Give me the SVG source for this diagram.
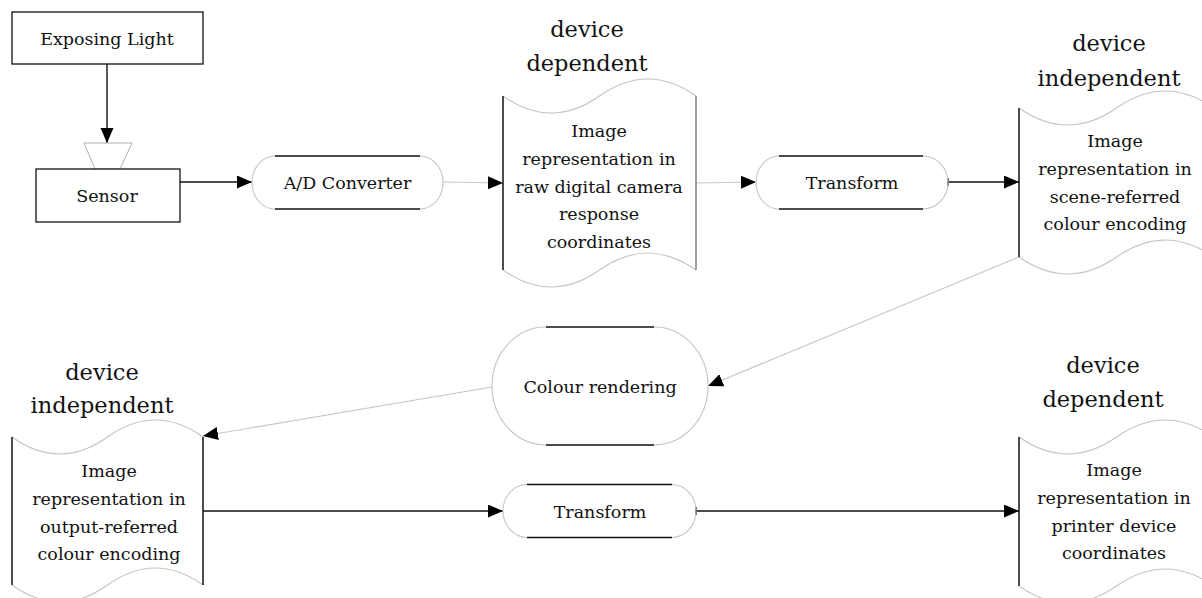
<svg xmlns="http://www.w3.org/2000/svg" width="1202" height="598" viewBox="0 0 1202 598">
<style>
text{font-family:"DejaVu Serif","Liberation Serif",serif;fill:#111;text-anchor:middle}
.b{font-size:17.5px}
.l{font-size:22.5px}
.box{fill:#fff;stroke:#111;stroke-width:1.3}
.k{fill:none;stroke:#111;stroke-width:1.5}
.g{fill:none;stroke:#c4c4c4;stroke-width:1.1}
.gd{fill:none;stroke:#808080;stroke-width:1.5}
.ck{fill:none;stroke:#111;stroke-width:1.4}
.cg{fill:none;stroke:#c8c8c8;stroke-width:1.2}
</style>
<defs>
<marker id="ah" markerUnits="userSpaceOnUse" markerWidth="16" markerHeight="14" refX="15" refY="6.5" orient="auto">
<path d="M0,0 L15,6.5 L0,13 z" fill="#000"/>
</marker>
</defs>
<rect width="1202" height="598" fill="#fff"/>

<g id="connectors">
<line class="ck" x1="107" y1="64" x2="107" y2="143" marker-end="url(#ah)"/>
<line class="ck" x1="180" y1="182" x2="252" y2="182" marker-end="url(#ah)"/>
<line class="cg" x1="443" y1="182" x2="503" y2="183" marker-end="url(#ah)"/>
<line class="cg" x1="696" y1="183" x2="756" y2="182" marker-end="url(#ah)"/>
<line class="ck" x1="948" y1="182" x2="1019" y2="182" marker-end="url(#ah)"/>
<line class="ck" x1="948" y1="178" x2="948" y2="186"/>
<line class="cg" x1="1019" y1="257" x2="708" y2="386" marker-end="url(#ah)"/>
<line class="cg" x1="492" y1="387" x2="203" y2="436" marker-end="url(#ah)"/>
<line class="ck" x1="203" y1="511" x2="503" y2="511" marker-end="url(#ah)"/>
<line class="ck" x1="696" y1="511" x2="1019" y2="511" marker-end="url(#ah)"/>
<line class="ck" x1="696" y1="507" x2="696" y2="515"/>
</g>

<g id="exposing-light">
<rect class="box" x="12" y="12" width="191" height="52"/>
<text class="b" x="107" y="45">Exposing Light</text>
</g>

<g id="sensor">
<path d="M84,143 L132,143 L120,169 L95,169 z" fill="#fff" stroke="#b0b0b0" stroke-width="1"/>
<rect class="box" x="36" y="169" width="144" height="53"/>
<text class="b" x="107" y="202">Sensor</text>
</g>

<g id="ad-converter">
<path class="g" d="M275,156 A23,26.5 0 0 0 275,209 M420,156 A23,26.5 0 0 1 420,209"/>
<path class="k" d="M275,156 H420 M275,209 H420"/>
<text class="b" x="347.5" y="189">A/D Converter</text>
</g>

<g id="raw-image">
<text class="l" x="587" y="37">device</text>
<text class="l" x="587" y="71">dependent</text>
<path class="g" d="M503,96 Q551.25,130 599.5,96 Q647.75,62 696,96 M503,270 Q551.25,304 599.5,270 Q647.75,236 696,270"/>
<line class="k" x1="503" y1="96" x2="503" y2="270"/>
<line class="gd" x1="696" y1="96" x2="696" y2="270"/>
<text class="b" x="599" y="137">Image</text>
<text class="b" x="599" y="165">representation in</text>
<text class="b" x="599" y="193">raw digital camera</text>
<text class="b" x="599" y="220">response</text>
<text class="b" x="599" y="248">coordinates</text>
</g>

<g id="transform-1">
<path class="g" d="M779,156 A23,26.5 0 0 0 779,209 M923,156 A25,26.5 0 0 1 923,209"/>
<path class="k" d="M779,156 H923 M779,209 H923"/>
<text class="b" x="852" y="189">Transform</text>
</g>

<g id="scene-referred">
<text class="l" x="1109" y="51">device</text>
<text class="l" x="1109" y="86">independent</text>
<path class="g" d="M1019,108 Q1067.75,142 1116.5,108 Q1165.25,74 1214,108 M1019,257 Q1067.75,291 1116.5,257 Q1165.25,223 1214,257"/>
<line class="k" x1="1019" y1="108" x2="1019" y2="257"/>
<text class="b" x="1115" y="147">Image</text>
<text class="b" x="1115" y="175">representation in</text>
<text class="b" x="1115" y="203">scene-referred</text>
<text class="b" x="1115" y="230">colour encoding</text>
</g>

<g id="colour-rendering">
<path class="g" d="M546,327 A54,59 0 0 0 546,445 M654,327 A54,59 0 0 1 654,445"/>
<path class="k" d="M546,327 H654 M546,445 H654"/>
<text class="b" x="600" y="393">Colour rendering</text>
</g>

<g id="output-referred">
<text class="l" x="102" y="380">device</text>
<text class="l" x="102" y="413">independent</text>
<path class="g" d="M12,437 Q59.75,471 107.5,437 Q155.25,403 203,437 M12,585 Q59.75,619 107.5,585 Q155.25,551 203,585"/>
<line class="k" x1="12" y1="437" x2="12" y2="585"/>
<line class="k" x1="203" y1="437" x2="203" y2="585"/>
<text class="b" x="109" y="477">Image</text>
<text class="b" x="109" y="505">representation in</text>
<text class="b" x="109" y="533">output-referred</text>
<text class="b" x="109" y="560">colour encoding</text>
</g>

<g id="transform-2">
<path class="g" d="M527,484.5 A24,26.5 0 0 0 527,537.5 M672,484.5 A24,26.5 0 0 1 672,537.5"/>
<path class="k" d="M527,484.5 H672 M527,537.5 H672"/>
<text class="b" x="600" y="518">Transform</text>
</g>

<g id="printer-coords">
<text class="l" x="1103" y="373">device</text>
<text class="l" x="1103" y="407">dependent</text>
<path class="g" d="M1019,437 Q1067.75,471 1116.5,437 Q1165.25,403 1214,437 M1019,586 Q1067.75,620 1116.5,586 Q1165.25,552 1214,586"/>
<line class="k" x1="1019" y1="437" x2="1019" y2="586"/>
<text class="b" x="1114" y="476">Image</text>
<text class="b" x="1114" y="504">representation in</text>
<text class="b" x="1114" y="532">printer device</text>
<text class="b" x="1114" y="559">coordinates</text>
</g>
</svg>
